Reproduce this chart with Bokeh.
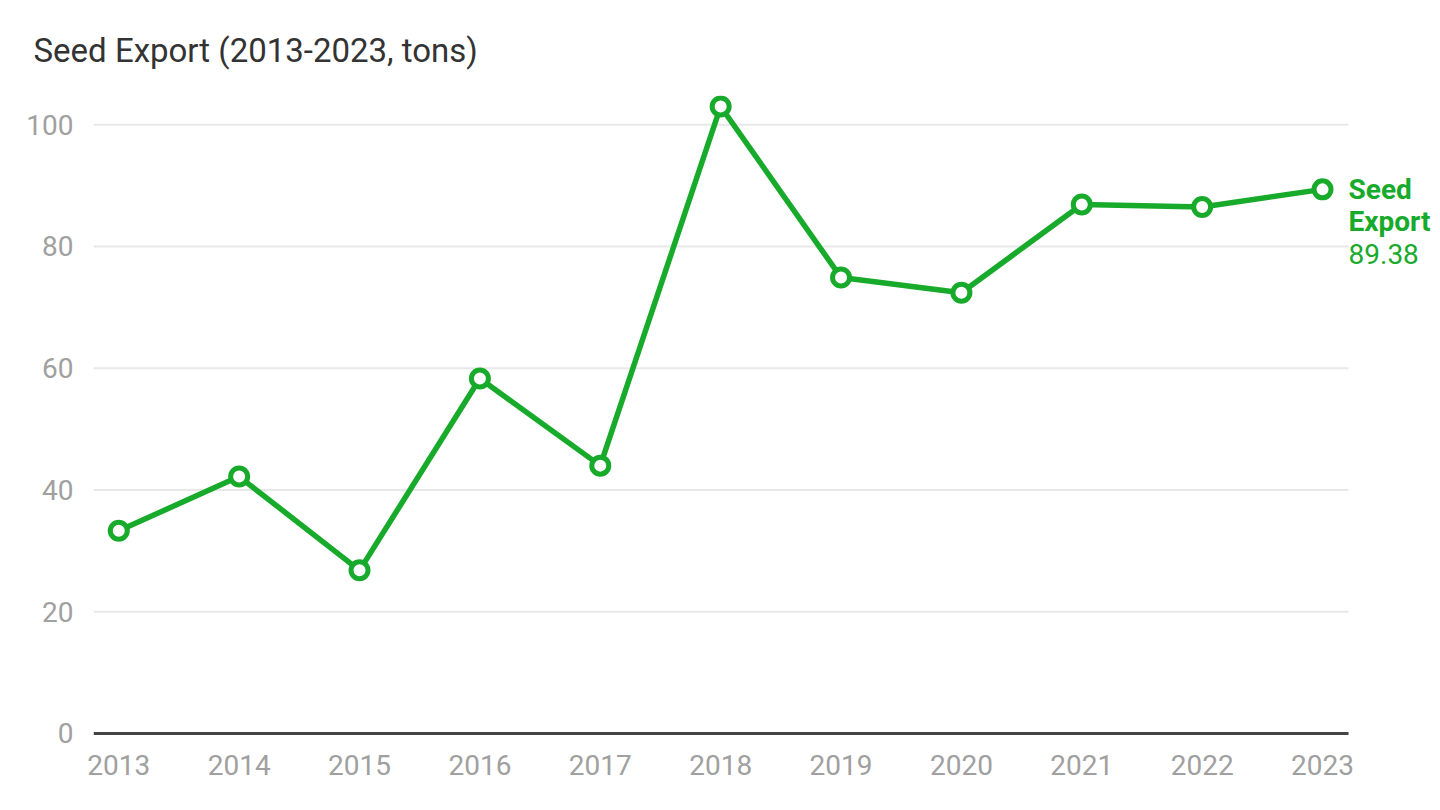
from bokeh.plotting import figure
from bokeh.models import Range1d, Label, FixedTicker, ColumnDataSource
from bokeh.embed import file_html
from bokeh.resources import INLINE

years = [2013, 2014, 2015, 2016, 2017, 2018, 2019, 2020, 2021, 2022, 2023]
seed_export = [33.3, 42.2, 26.8, 58.3, 44.0, 103.0, 74.9, 72.4, 86.9, 86.5, 89.38]
y_ticks = [0, 20, 40, 60, 80, 100]
title_text = "Seed Export (2013-2023, tons)"
series_name = "Seed Export"

GREEN = "#17aa2b"
FONT = "Roboto"

x_start, x_end = 2012.79, 2023.98
grid_end = years[-1] + 0.216

p = figure(width=1440, height=800, output_backend="svg", toolbar_location=None,
           x_range=Range1d(x_start, x_end), y_range=Range1d(-0.33, 104.8),
           min_border_left=93, min_border_right=0, min_border_top=95, min_border_bottom=65)
p.outline_line_color = None
p.background_fill_color = "white"
p.border_fill_color = "white"

p.xgrid.grid_line_color = None
p.ygrid.grid_line_color = None

p.title.text = title_text
p.title.text_font = FONT
p.title.text_font_size = "33px"
p.title.text_font_style = "normal"
p.title.text_color = "#333333"
p.title.align = "left"
p.title.offset = -60
p.title.standoff = 51

p.yaxis.ticker = FixedTicker(ticks=y_ticks)
p.xaxis.ticker = FixedTicker(ticks=years)
for ax in (p.xaxis, p.yaxis):
    ax.axis_line_color = None
    ax.major_tick_line_color = None
    ax.minor_tick_line_color = None
    ax.major_label_text_font = FONT
    ax.major_label_text_font_size = "28px"
    ax.major_label_text_color = "#a0a0a0"
p.yaxis.major_label_standoff = 14
p.xaxis.major_label_standoff = 13

# horizontal gridlines ending just after the last year
grid_y = [t for t in y_ticks if t != 0]
p.segment(x0=[x_start] * len(grid_y), x1=[grid_end] * len(grid_y), y0=grid_y, y1=grid_y,
          line_color="#e8e8e8", line_width=2)
# zero baseline
p.segment(x0=[x_start], x1=[grid_end], y0=[0], y1=[0], line_color="#444444", line_width=3)

src = ColumnDataSource(dict(x=years, y=seed_export))
p.line("x", "y", source=src, line_color=GREEN, line_width=5.5)
p.scatter("x", "y", source=src, size=17, fill_color="white", line_color=GREEN, line_width=5)

# end label
lx, ly = years[-1], seed_export[-1]
words = series_name.split()
p.add_layout(Label(x=lx, y=ly, x_offset=26, y_offset=0, text=words[0],
                   text_font=FONT, text_font_size="28px", text_font_style="bold",
                   text_color=GREEN, text_baseline="alphabetic", text_align="left"))
p.add_layout(Label(x=lx, y=ly, x_offset=26, y_offset=-32, text=words[1],
                   text_font=FONT, text_font_size="28px", text_font_style="bold",
                   text_color=GREEN, text_baseline="alphabetic", text_align="left"))
p.add_layout(Label(x=lx, y=ly, x_offset=26, y_offset=-65, text=f"{ly:.2f}",
                   text_font=FONT, text_font_size="28px",
                   text_color=GREEN, text_baseline="alphabetic", text_align="left"))

open("out.html", "w").write(file_html(p, INLINE))
